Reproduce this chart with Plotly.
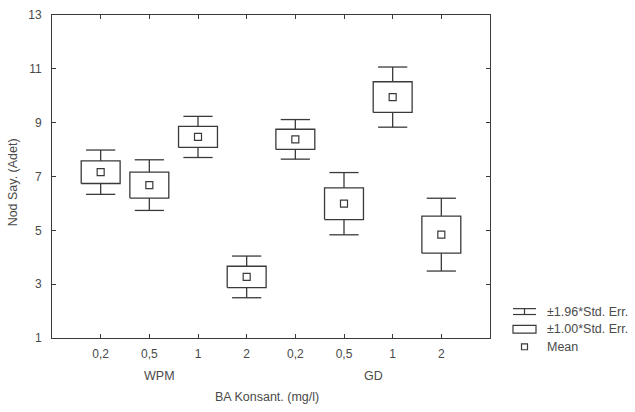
import plotly.graph_objects as go

# BA concentration levels (mg/l) for each medium, in plotting order
concentrations = ["0,2", "0,5", "1", "2", "0,2", "0,5", "1", "2"]
media = ["WPM", "GD"]
media_centers = [2.2, 6.6]

# Mean node count and its standard error per treatment
means = [7.16, 6.68, 8.47, 3.27, 8.38, 5.99, 9.95, 4.84]
std_errs = [0.42, 0.48, 0.39, 0.395, 0.375, 0.59, 0.57, 0.69]

y_ticks = [1, 3, 5, 7, 9, 11, 13]

LINE = "#3a3a3a"
TEXT = "#4a4a4a"
FONT = "Liberation Sans, Arial, sans-serif"
BOX_HALF = 0.4
CAP_HALF = 0.3

W, H = 635, 412
ML, MR, MT, MB = 52, 145, 8, 74
PW, PH = W - ML - MR, H - MT - MB

positions = list(range(1, len(means) + 1))

box_x, box_y, wh_x, wh_y = [], [], [], []
for x, m, se in zip(positions, means, std_errs):
    lo1, hi1 = m - se, m + se
    lo2, hi2 = m - 1.96 * se, m + 1.96 * se
    box_x += [x - BOX_HALF, x + BOX_HALF, x + BOX_HALF, x - BOX_HALF, x - BOX_HALF, None]
    box_y += [lo1, lo1, hi1, hi1, lo1, None]
    wh_x += [x, x, None, x - CAP_HALF, x + CAP_HALF, None,
             x, x, None, x - CAP_HALF, x + CAP_HALF, None]
    wh_y += [hi1, hi2, None, hi2, hi2, None,
             lo1, lo2, None, lo2, lo2, None]

fig = go.Figure()
fig.add_trace(go.Scatter(x=wh_x, y=wh_y, mode="lines",
                         line=dict(color=LINE, width=1.3), hoverinfo="skip"))
fig.add_trace(go.Scatter(x=box_x, y=box_y, mode="lines",
                         line=dict(color=LINE, width=1.3), hoverinfo="skip"))
fig.add_trace(go.Scatter(x=positions, y=means, mode="markers",
                         marker=dict(symbol="square-open", size=7,
                                     color=LINE, line=dict(width=1.2))))


def px_x(px):
    return (px - ML) / PW


def px_y(py):
    return (H - MB - py) / PH


# Legend drawn by hand: I-beam, rectangle, small square
shapes = []
lx0, lx1, lxc = 513, 536, 524.5
shapes += [
    dict(type="line", x0=px_x(lx0), x1=px_x(lx1), y0=px_y(308), y1=px_y(308)),
    dict(type="line", x0=px_x(lx0), x1=px_x(lx1), y0=px_y(314), y1=px_y(314)),
    dict(type="line", x0=px_x(lxc), x1=px_x(lxc), y0=px_y(308), y1=px_y(314)),
    dict(type="rect", x0=px_x(lx0), x1=px_x(lx1), y0=px_y(325), y1=px_y(333)),
    dict(type="rect", x0=px_x(lxc - 3), x1=px_x(lxc + 3),
         y0=px_y(344), y1=px_y(350)),
]
for s in shapes:
    s.update(xref="paper", yref="paper", line=dict(color=LINE, width=1.2))

annotations = []
for label, py in [("±1.96*Std. Err.", 311.5), ("±1.00*Std. Err.", 328.5), ("Mean", 347)]:
    annotations.append(dict(text=label, x=px_x(545), y=px_y(py), xref="paper",
                            yref="paper", xanchor="left", yanchor="middle",
                            showarrow=False, font=dict(size=12.5, color=TEXT, family=FONT)))
for name, cx in zip(media, media_centers):
    annotations.append(dict(text=name, x=cx, xref="x", y=px_y(377), yref="paper",
                            xanchor="center", yanchor="middle", showarrow=False,
                            font=dict(size=12.5, color=TEXT, family=FONT)))
annotations.append(dict(text="BA Konsant. (mg/l)", x=px_x(267), y=px_y(398),
                        xref="paper", yref="paper", xanchor="center", yanchor="middle",
                        showarrow=False, font=dict(size=12.5, color=TEXT, family=FONT)))
annotations.append(dict(text="Nod Say. (Adet)", x=px_x(13), y=px_y(179),
                        xref="paper", yref="paper", xanchor="center", yanchor="middle",
                        textangle=-90, showarrow=False,
                        font=dict(size=12.5, color=TEXT, family=FONT)))

fig.update_layout(
    width=W, height=H,
    margin=dict(l=ML, r=MR, t=MT, b=MB),
    paper_bgcolor="white", plot_bgcolor="white",
    showlegend=False,
    shapes=shapes, annotations=annotations,
    font=dict(family=FONT, size=12, color=TEXT),
)
fig.update_xaxes(range=[0, 9], tickvals=positions, ticktext=concentrations,
                 showgrid=False, zeroline=False, showline=True, linecolor=LINE,
                 linewidth=1, mirror="ticks", ticks="inside", ticklen=4,
                 tickcolor=LINE, ticklabelstandoff=5,
                 tickfont=dict(size=12, color=TEXT, family=FONT))
fig.update_yaxes(range=[1, 13], tickvals=y_ticks, showgrid=False, zeroline=False,
                 showline=True, linecolor=LINE, linewidth=1, mirror="ticks",
                 ticks="inside", ticklen=4, tickcolor=LINE, ticklabelstandoff=7,
                 tickfont=dict(size=12, color=TEXT, family=FONT))

fig.write_html("out.html")
